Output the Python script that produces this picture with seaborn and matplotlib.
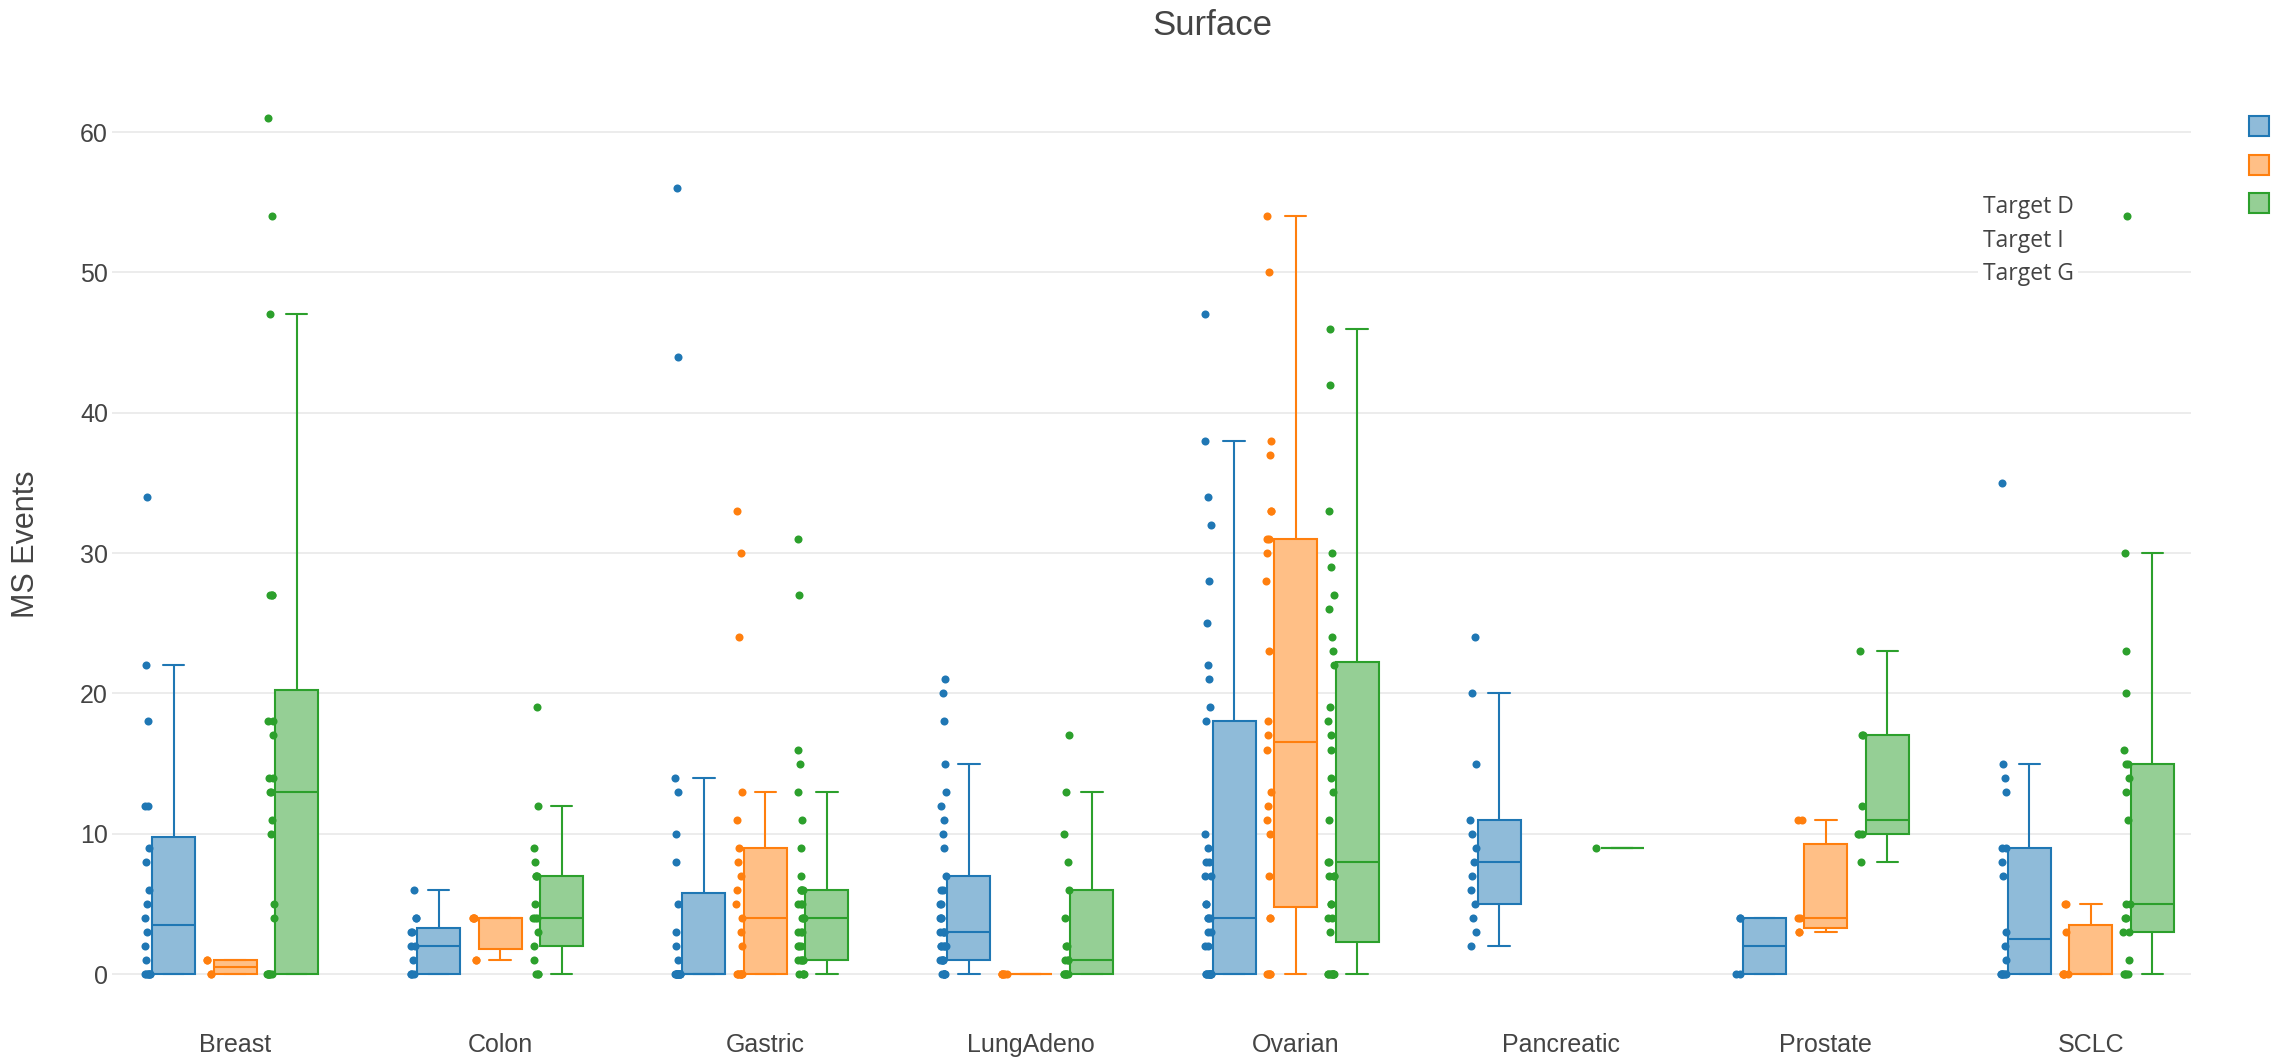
#!/bin/python3

import matplotlib
matplotlib.use("Agg")
import matplotlib.pyplot as plt
import matplotlib.transforms as mtransforms
from matplotlib.lines import Line2D
import numpy as np
import pandas as pd
import seaborn as sns

cancers = ["Breast", "Colon", "Gastric", "LungAdeno", "Ovarian", "Pancreatic", "Prostate", "SCLC"]
targets = ["Target D", "Target I", "Target G"]

# MS events per sample
breast_d = [0, 0, 0, 0, 0, 0, 0, 1, 2, 3, 4, 5, 6, 8, 9, 12, 12, 18, 22, 34]
breast_i = [0, 0, 1, 1]
breast_g = [0, 0, 0, 0, 0, 0, 0, 4, 5, 10, 11, 13, 13, 14, 14, 17, 18, 18, 27, 27, 27, 47, 54, 61]

colon_d = [0, 0, 0, 0, 1, 2, 2, 3, 3, 4, 4, 6]
colon_i = [1, 1, 4, 4, 4, 4]
colon_g = [0, 0, 0, 1, 2, 3, 4, 4, 4, 5, 7, 7, 7, 8, 9, 12, 19]

gastric_d = [0, 0, 0, 0, 0, 0, 0, 0, 0, 0, 0, 0, 0, 0, 1, 2, 3, 5, 8, 10, 13, 14, 44, 56]
gastric_i = [0, 0, 0, 0, 0, 0, 0, 0, 2, 3, 4, 5, 6, 7, 8, 9, 11, 13, 24, 30, 33]
gastric_g = [0, 0, 0, 0, 1, 1, 1, 1, 1, 2, 2, 2, 3, 3, 3, 4, 4, 4, 5, 5, 5, 6, 6, 6, 6,
             7, 9, 11, 13, 15, 16, 27, 31]

lung_d = [0, 0, 0, 0, 0, 0, 1, 1, 1, 1, 1, 2, 2, 2, 2, 2, 3, 3, 3, 3, 4, 4, 4, 5, 5, 6, 6, 7,
          9, 10, 11, 12, 13, 15, 18, 20, 21]
lung_i = [0, 0, 0, 0, 0, 0]
lung_g = [0, 0, 0, 0, 0, 0, 1, 1, 1, 2, 2, 4, 6, 8, 10, 13, 17]

ovarian_d = [0, 0, 0, 0, 0, 0, 0, 0, 0, 0, 0, 0, 2, 2, 3, 3, 4, 4, 4, 5, 5, 7, 7, 8, 8, 9, 10, 18,
             19, 21, 22, 25, 28, 32, 34, 38, 47]
ovarian_i = [0, 0, 0, 0, 0, 4, 4, 7, 10, 11, 12, 13, 16, 17, 18, 23, 28, 30, 31, 31, 33, 33,
             37, 38, 50, 54]
ovarian_g = [0, 0, 0, 0, 0, 0, 0, 0, 0, 3, 4, 4, 5, 5, 7, 7, 7, 8, 8, 11, 13, 14, 16, 17, 18, 19,
             22, 23, 24, 26, 27, 29, 30, 33, 42, 46]

pancreatic_d = [2, 3, 4, 5, 6, 7, 8, 9, 10, 11, 15, 20, 24]
pancreatic_i = []
pancreatic_g = [9]

prostate_d = [0, 0, 4, 4]
prostate_i = [3, 3, 4, 4, 11, 11]
prostate_g = [8, 10, 10, 10, 12, 17, 17, 23]

sclc_d = [0, 0, 0, 0, 0, 0, 0, 1, 2, 3, 7, 8, 9, 9, 13, 14, 15, 35]
sclc_i = [0, 0, 0, 0, 0, 3, 5, 5]
sclc_g = [0, 0, 0, 0, 1, 3, 3, 4, 4, 5, 5, 11, 13, 14, 15, 15, 16, 20, 23, 30, 54]

groups = {
    "Breast": (breast_d, breast_i, breast_g),
    "Colon": (colon_d, colon_i, colon_g),
    "Gastric": (gastric_d, gastric_i, gastric_g),
    "LungAdeno": (lung_d, lung_i, lung_g),
    "Ovarian": (ovarian_d, ovarian_i, ovarian_g),
    "Pancreatic": (pancreatic_d, pancreatic_i, pancreatic_g),
    "Prostate": (prostate_d, prostate_i, prostate_g),
    "SCLC": (sclc_d, sclc_i, sclc_g),
}

line_colors = {"Target D": "#1f77b4", "Target I": "#ff7f0e", "Target G": "#2ca02c"}
fill_colors = {"Target D": "#8fbbd9", "Target I": "#ffbf86", "Target G": "#95cf95"}


def build_frame():
    rows = []
    for cancer in cancers:
        for target, values in zip(targets, groups[cancer]):
            for v in values:
                rows.append([cancer, target, v])
    return pd.DataFrame(rows, columns=["cancer", "target", "events"])


def plot():
    np.random.seed(3)
    sns.set_style("white")
    plt.rcParams["font.family"] = ["Liberation Sans", "DejaVu Sans"]

    df = build_frame()

    fig = plt.figure(figsize=(22.92, 10.6), dpi=100)
    ax = fig.add_axes([0.0489, 0.0414, 0.9071, 0.8896])

    box_width = 0.696
    hue_step = box_width / 3
    point_shift = -0.098

    for i, target in enumerate(targets):
        sub = df[df["target"] == target]
        sns.boxplot(data=sub, x="cancer", y="events", hue="target", order=cancers,
                    hue_order=targets, palette=fill_colors, saturation=1, dodge=True,
                    linecolor=line_colors[target], linewidth=1.5, width=box_width,
                    gap=0.3, whis=1.5, showfliers=False, legend=False, ax=ax)

        n_before = len(ax.collections)
        sns.stripplot(data=sub, x="cancer", y="events", order=cancers,
                      color=line_colors[target], size=5.8, linewidth=0, jitter=0.012,
                      legend=False, ax=ax, zorder=4)
        dx = (i - 1) * hue_step + point_shift
        trans = mtransforms.Affine2D().translate(dx, 0) + ax.transData
        for coll in ax.collections[n_before:]:
            coll.set_offset_transform(trans)

    ax.set_xlim(-0.464, 7.378)
    ax.set_ylim(-3, 64.2)
    ax.set_yticks(range(0, 61, 10))
    ax.grid(axis="y", color="#ebebeb", linewidth=1.3)
    ax.set_axisbelow(True)
    for s in ax.spines.values():
        s.set_visible(False)
    ax.tick_params(axis="both", length=0, labelsize=18, colors="#444444")
    ax.tick_params(axis="x", pad=12)
    ax.tick_params(axis="y", pad=3)
    ax.set_xlabel("")
    ax.set_ylabel("MS Events", fontsize=22, color="#444444", labelpad=28)

    fig.suptitle("Surface", x=0.529, y=0.976, va="center", fontsize=25, color="#444444")

    # plotly-style legend: swatches on the right, names inside the plot
    handles = [Line2D([], [], marker="s", linestyle="", markersize=14,
                      markerfacecolor=fill_colors[t], markeredgecolor=line_colors[t],
                      markeredgewidth=1.5) for t in targets]
    fig.legend(handles, ["", "", ""], loc="center", bbox_to_anchor=(0.9856, 0.8425),
               frameon=False, fontsize=16, labelspacing=0.78, handlelength=1,
               handletextpad=0, borderpad=0)
    fig.text(0.865, 0.773, "Target D\nTarget I\nTarget G", family=["Open Sans", "DejaVu Sans"],
             fontsize=16.5, color="#444444", va="center", ha="left", linespacing=1.52,
             bbox=dict(facecolor="white", edgecolor="none", pad=3))

    fig.savefig("out.png", dpi=100)


if __name__ == "__main__":
    plot()
